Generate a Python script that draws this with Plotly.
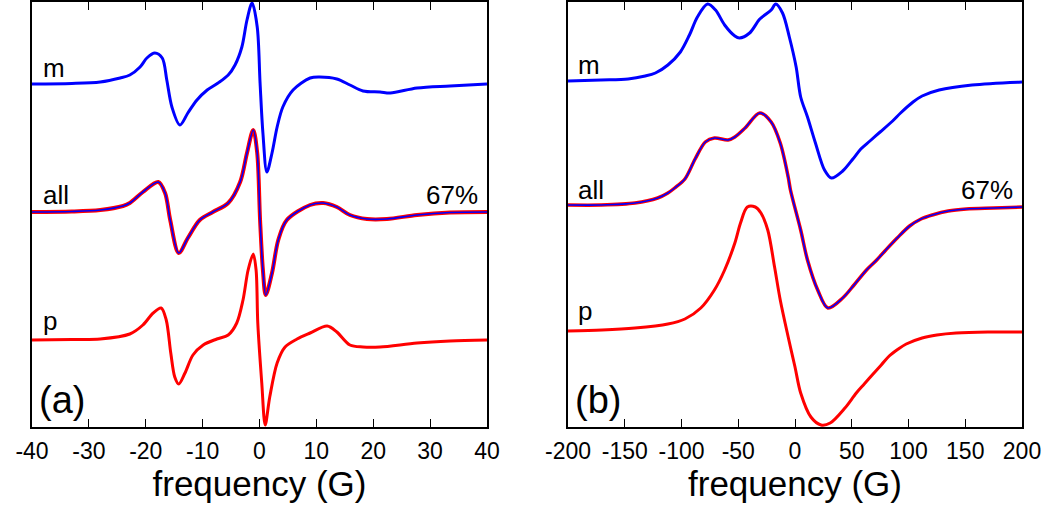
import plotly.graph_objects as go

# ---------------- Panel (a): -40..40 G ----------------
a_m_x = [-40, -33, -28.0, -24.5, -22.8, -21.0, -19.8, -18.4, -17.1, -16.3, -15.4, -14.0, -12.6, -11.0, -9.2,
         -7.3, -5.5, -4.3, -3.1, -2.2, -1.3, -0.4, 0.1, 0.6, 1.3, 2.2, 3.1, 4.1, 5.9, 8.9, 10.6, 13.6, 15.9,
         18.2, 21.2, 23.0, 27.7, 33.5, 40]
a_m_y = [0, 0.5, 2, 6, 9, 17, 26, 31, 26, 4, -23, -41, -29, -16, -6,
         1, 9, 19, 37, 64, 81, 57, 1, -49, -88, -69, -43, -23, -6, 6, 7, 5, -1,
         -7, -8, -9, -4, -2, 0]

a_all_x = [-40, -33, -28.0, -24.0, -22.8, -20.5, -17.8, -16.6, -15.7, -14.2, -12.6, -10.5, -8.2, -5.5, -3.4,
           -2.2, -1.1, -0.4, 0.1, 0.6, 1.1, 2.2, 3.3, 4.8, 8.9, 11.2, 13.6, 15.9, 18.9, 22.4, 27.7, 33.5, 40]
a_all_y = [0, 0.5, 2, 6, 9, 20, 30, 19, -8, -41, -26, -8, 0, 9, 30,
           59, 82, 59, -8, -58, -83, -61, -28, -8, 7, 9, 5, -3, -7, -7, -3, -0.5, 0]

a_p_x = [-40, -33, -28.0, -22.8, -20.5, -18.7, -17.3, -16.4, -15.6, -14.9, -14.2, -13.1, -11.7, -9.9, -7.5,
         -5.5, -4.0, -2.9, -2.0, -1.1, -0.6, -0.3, 0.4, 1.0, 1.8, 3.1, 4.5, 6.6, 8.9, 11.9, 13.6, 15.9, 18.2,
         21.2, 27.7, 33.5, 40]
a_p_y = [0, 0.5, 1, 6, 15, 27, 32, 20, -13, -37, -44, -33, -15, -5, 1,
         5, 17, 40, 70, 86, 70, 17, -43, -85, -57, -23, -7, 1, 7, 14, 8, -5, -7,
         -7, -3, -1, 0]

# vertical offsets of the stacked spectra (arbitrary units)
a_offsets = {"m": 343, "all": 215, "p": 87}

# ---------------- Panel (b): -200..200 G ----------------
b_m_x = [-200, -171, -147, -132, -123, -112, -101, -93, -86, -77, -70, -62, -53, -49, -40, -31, -21, -17, -11,
         -5, 1, 5, 11, 18, 26, 32, 42, 51, 58, 66, 75, 86, 93, 104, 112, 127, 156, 200]
b_m_y = [0, 1, 2, 5, 8, 16, 29, 46, 64, 77, 71, 56, 45, 43, 48, 62, 71, 77, 68,
         44, 14, -16, -36, -62, -89, -97, -90, -78, -68, -60, -51, -40, -32, -21, -15, -9, -4, -1]

b_all_x = [-200, -171, -141, -121, -112, -106, -97, -88, -79, -71, -59, -53, -44, -31, -21, -13, -6, -4,
           5, 11, 20, 29, 42, 52, 63, 72, 80, 90, 101, 111, 121, 135, 151, 175, 200]
b_all_y = [1, 1, 3, 8, 13, 18, 27, 47, 64, 68, 66, 69, 78, 93, 84, 63, 29, 16,
           -24, -54, -84, -102, -92, -79, -64, -54, -44, -32, -20, -13, -9, -5, -3, -2, -1]

b_p_x = [-200, -170, -141, -112, -97, -83, -71, -62, -53, -48, -42, -35, -30, -24, -18, -13, -6, 0, 5, 14, 23,
         31, 44, 54, 61, 68, 76, 83, 91, 98, 112, 125, 142, 170, 200]
b_p_y = [0, 1, 3, 7, 12, 23, 41, 61, 88, 108, 124, 124, 118, 101, 64, 31, -6, -36, -62, -86, -94,
         -92, -77, -62, -53, -44, -34, -25, -18, -13, -7, -4, -2, -1, -1]

b_offsets = {"m": 346, "all": 221, "p": 96}

a_ticks = [-40, -30, -20, -10, 0, 10, 20, 30, 40]
b_ticks = [-200, -150, -100, -50, 0, 50, 100, 150, 200]

BLUE = "#0000FF"
RED = "#FF0000"
FONT = "Arial, 'Liberation Sans', sans-serif"

fig = go.Figure()


def add(x, y, off, color, width, xa, ya):
    fig.add_trace(go.Scatter(
        x=x, y=[v + off for v in y], mode="lines",
        line=dict(color=color, width=width, shape="spline", smoothing=0.9),
        xaxis=xa, yaxis=ya, showlegend=False, hoverinfo="skip"))


add(a_m_x, a_m_y, a_offsets["m"], BLUE, 3, "x", "y")
add(a_all_x, a_all_y, a_offsets["all"], RED, 4, "x", "y")
add(a_all_x, a_all_y, a_offsets["all"], BLUE, 1.6, "x", "y")
add(a_p_x, a_p_y, a_offsets["p"], RED, 3, "x", "y")

add(b_m_x, b_m_y, b_offsets["m"], BLUE, 3, "x2", "y2")
add(b_all_x, b_all_y, b_offsets["all"], RED, 3.5, "x2", "y2")
add(b_all_x, b_all_y, b_offsets["all"], BLUE, 1.6, "x2", "y2")
add(b_p_x, b_p_y, b_offsets["p"], RED, 3, "x2", "y2")

W, H = 1050, 518


def xaxis_cfg(dom, rng, ticks, anchor):
    return dict(
        domain=dom, range=rng, tickvals=ticks, ticktext=[str(t) for t in ticks],
        ticks="inside", ticklen=8, tickwidth=1, tickcolor="black",
        showline=True, linecolor="black", linewidth=1.5, mirror="ticks",
        showgrid=False, zeroline=False, automargin=False, anchor=anchor,
        tickfont=dict(family=FONT, size=23, color="black"),
        ticklabelstandoff=3,
        title=dict(text="frequency (G)", font=dict(family=FONT, size=35, color="black"), standoff=2),
    )


def yaxis_cfg(anchor):
    return dict(
        domain=[0, 1], range=[0, 425], showticklabels=False, ticks="",
        showline=True, linecolor="black", linewidth=1.5, mirror=True,
        showgrid=False, zeroline=False, automargin=False, anchor=anchor,
    )


fig.update_layout(
    width=W, height=H, template="none",
    paper_bgcolor="white", plot_bgcolor="white",
    margin=dict(l=0, r=0, t=2, b=91),
    xaxis=xaxis_cfg([32 / W, 487 / W], [-40, 40], a_ticks, "y"),
    xaxis2=xaxis_cfg([568 / W, 1022 / W], [-200, 200], b_ticks, "y2"),
    yaxis=yaxis_cfg("x"),
    yaxis2=yaxis_cfg("x2"),
    font=dict(family=FONT, color="black"),
)


def label(text, x, y, xr, yr, size, xanchor="left"):
    fig.add_annotation(text=text, x=x, y=y, xref=xr, yref=yr, showarrow=False,
                       xanchor=xanchor, yanchor="middle",
                       font=dict(family=FONT, size=size, color="black"))


label("m", -38.4, 359, "x", "y", 26)
label("all", -38.4, 232, "x", "y", 26)
label("p", -38.4, 106, "x", "y", 26)
label("(a)", -39.2, 27, "x", "y", 38)
label("67%", 38.8, 232, "x", "y", 26, "right")

label("m", -193, 362, "x2", "y2", 26)
label("all", -193, 237, "x2", "y2", 26)
label("p", -193, 116, "x2", "y2", 26)
label("(b)", -196, 27, "x2", "y2", 38)
label("67%", 193.5, 237, "x2", "y2", 26, "right")

fig.write_html("out.html", config={"displayModeBar": False},
               post_script="document.body.style.margin='0';")
